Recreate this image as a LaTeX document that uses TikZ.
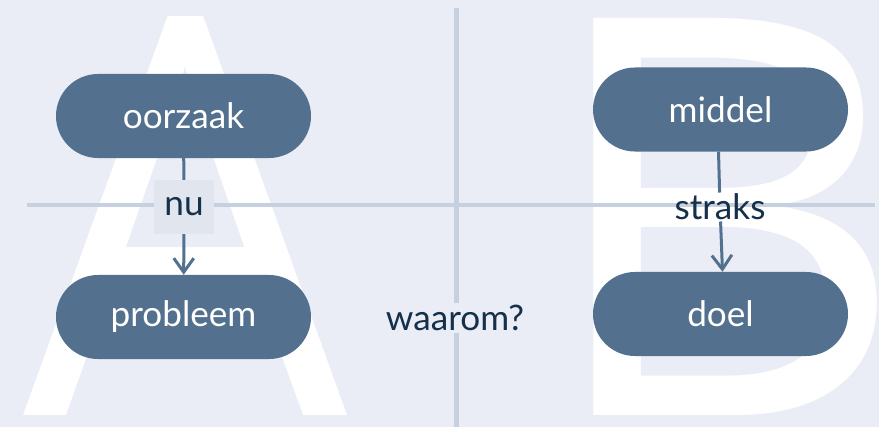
\documentclass[tikz,border=0pt]{standalone}
\usepackage{fontspec}
\setmainfont{Lato}
\newfontfamily\letterfont{Open Sans}
\usepackage{tikz}
\usetikzlibrary{arrows.meta}
\definecolor{bg}{HTML}{EAEDF5}
\definecolor{pillblue}{HTML}{53718F}
\definecolor{axis}{HTML}{C6D0DF}
\definecolor{ink}{HTML}{15304A}
\definecolor{tagbg}{HTML}{E0E5EE}

\begin{document}
\begin{tikzpicture}[x=0.03cm,y=-0.03cm]
	\tikzstyle{pill}=[rectangle,fill=pillblue,text=white,rounded corners=1.26cm,minimum width=7.65cm,minimum height=2.52cm,font=\fontsize{30}{34}\selectfont]
	\tikzstyle{lbl}=[text=ink,inner sep=4pt,font=\fontsize{30}{34}\selectfont]
	\tikzstyle{big}=[text=white,inner sep=0pt,font=\letterfont\fontsize{475}{475}\selectfont]
	\tikzstyle{edge}=[pillblue,line width=0.09cm]
	\fill[bg] (0,0) rectangle (879,427);
	\useasboundingbox (0,0) rectangle (879,427);
	\begin{scope}
		\clip (0,0) rectangle (879,427);
		\node[big,anchor=base] (A) at (185,415) {\scalebox{0.92}[1]{A}};
		\node[big,anchor=base west] (B) at (537,415) {\scalebox{1.03}[1]{B}};
	\end{scope}
	\draw[axis,line width=0.12cm] (27,205) -- (875,205);
	\draw[axis,line width=0.15cm] (456,8) -- (456,427);
	\node[pill] (1) at (183.5,116) {oorzaak};
	\node[pill] (2) at (183.5,317) {probleem};
	\node[pill] (3) at (720.5,109.5) {middel};
	\node[pill] (4) at (720.5,314) {doel};
	\node[lbl,fill=tagbg,minimum width=1.8cm,minimum height=1.62cm] (5) at (184,207) {nu};
	\node[lbl,inner sep=1pt] (6) at (720,207) {straks};
	\node[lbl,fill=bg,inner ysep=2pt,inner xsep=1pt] (7) at (455,318) {waarom?};
	\draw[edge] (1) -- (5);
	\draw[edge,-{Straight Barb[length=0.42cm,width=0.6cm]}] (5) -- (2);
	\draw[edge] (3.south) ++(-2,0) -- (6);
	\draw[edge,-{Straight Barb[length=0.42cm,width=0.6cm]}] (6) -- ([xshift=0.06cm]4.north);
\end{tikzpicture}
\end{document}
